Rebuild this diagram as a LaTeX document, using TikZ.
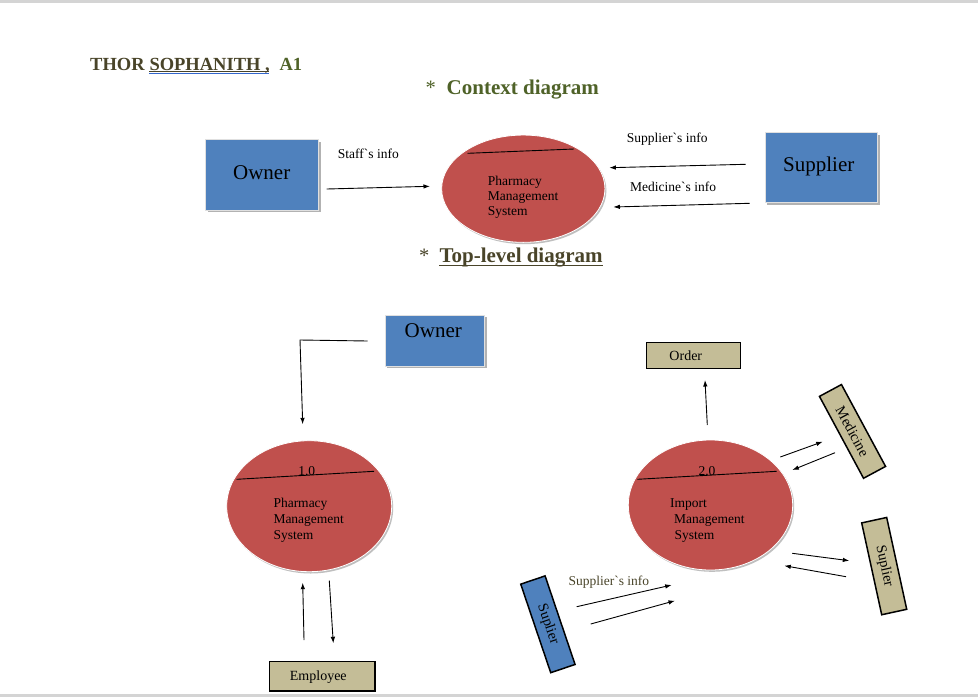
\documentclass[tikz,border=0pt]{standalone}
\usepackage{fontspec}
\setmainfont{Liberation Serif}
\usetikzlibrary{arrows.meta,shapes.geometric}
\definecolor{boxblue}{HTML}{4F81BD}
\definecolor{procred}{HTML}{C0504D}
\definecolor{tanfill}{HTML}{C4BD97}
\definecolor{olivegreen}{HTML}{4F6228}
\definecolor{darkolive}{HTML}{494429}
\definecolor{spellblue}{HTML}{3366CC}
\definecolor{edgegray}{HTML}{D4D4D4}
\begin{document}
\begin{tikzpicture}[x=1pt,y=-1pt,
  flow/.style={line width=0.9pt,-{Latex[length=6.5pt,width=4.5pt]}},
  plainline/.style={line width=0.9pt},
  bluebox/.style={rectangle, fill=boxblue, draw=black!12, line width=0.8pt, inner sep=0pt},
  boxshadow/.style={rectangle, fill=black!30, inner sep=0pt},
  procshadow/.style={ellipse, fill=black!25, inner sep=0pt},
  proc/.style={ellipse, fill=procred, draw=white, line width=0.8pt, inner sep=0pt},
  tanbox/.style={rectangle, fill=tanfill, draw=black, line width=1.5pt, inner sep=0pt, font=\fontsize{14}{16}\selectfont},
  rotbox/.style={rectangle, draw=black, line width=1.5pt, inner sep=0pt, font=\fontsize{14.5}{16}\selectfont},
  bigtext/.style={anchor=base, inner sep=0pt, font=\fontsize{21}{24}\selectfont},
  boxtext/.style={anchor=base, inner sep=0pt, font=\fontsize{14}{16}\selectfont},
  proctext/.style={anchor=base west, inner sep=0pt, font=\fontsize{13.5}{15}\selectfont},
  lbl/.style={anchor=base west, inner sep=0pt, font=\fontsize{13.5}{15}\selectfont},
  heading/.style={anchor=base west, inner sep=0pt, font=\bfseries\fontsize{21}{24}\selectfont},
  star/.style={anchor=base west, inner sep=0pt, font=\fontsize{20.5}{24}\selectfont},
  titletext/.style={anchor=base west, inner sep=0pt, font=\bfseries\fontsize{18.5}{22}\selectfont},
]
\useasboundingbox (0,0) rectangle (978,697);
\fill[white] (0,0) rectangle (978,697);
\fill[edgegray] (0,0) rectangle (978,2.6);
\fill[edgegray] (0,694.3) rectangle (978,697);

% ---------- title ----------
\node[titletext, text=darkolive] (t1) at (90,70) {THOR};
\node[titletext, text=darkolive] (t2) at (149.3,70) {SOPHANITH};
\node[titletext, text=darkolive] (t3) at (265,70) {,};
\node[titletext, text=olivegreen] (t4) at (279.3,70) {A1};
\draw[darkolive, line width=0.8pt] (149.3,71.4) -- (269.3,71.4);
\draw[spellblue, line width=1pt] (149.3,73.3) -- (269.3,73.3);

% ---------- headings ----------
\node[star, text=olivegreen] (s1) at (425.5,94.5) {*};
\node[heading, text=olivegreen] (h1) at (446.5,94.5) {Context diagram};
\node[star, text=darkolive] (s2) at (419,262.3) {*};
\node[heading, text=darkolive] (h2) at (439.3,262.3) {Top-level diagram};
\draw[darkolive, line width=1.3pt] (439.3,265.8) -- (603.3,265.8);

% ---------- context diagram ----------
\node[boxshadow, minimum width=112.6pt, minimum height=70.7pt] (owner1s) at (264.3,177) {};
\node[bluebox, minimum width=112.6pt, minimum height=70.7pt] (owner1) at (262,174.65) {};
\node[bigtext] (owner1t) at (261.7,179) {Owner};

\node[boxshadow, minimum width=112.3pt, minimum height=70pt] (supps) at (823.5,169.6) {};
\node[bluebox, minimum width=112.3pt, minimum height=70pt] (supp) at (821.2,167.3) {};
\node[bigtext] (suppt) at (818.8,171.7) {Supplier};

\node[procshadow, minimum width=163.3pt, minimum height=107.3pt] (ctxs) at (524.8,190.5) {};
\node[proc, minimum width=163.3pt, minimum height=107.3pt] (ctx) at (523.3,188.7) {};
\coordinate (ctxl1) at (467.7,153.3);
\coordinate (ctxl2) at (574,149);
\draw[plainline] (ctxl1) -- (ctxl2);
\node[proctext] (ctxt1) at (487.7,185) {Pharmacy};
\node[proctext] (ctxt2) at (487.7,200.3) {Management};
\node[proctext] (ctxt3) at (487.7,215.7) {System};

\coordinate (a1s) at (326.7,189);
\coordinate (a1e) at (430,186.3);
\draw[flow] (a1s) -- (a1e);
\node[lbl] (staff) at (337.7,158.3) {Staff\textasciigrave s info};

\coordinate (a2s) at (745.7,164.3);
\coordinate (a2e) at (609.3,167.7);
\draw[flow] (a2s) -- (a2e);
\node[lbl] (suppinfo) at (626.7,142.7) {Supplier\textasciigrave s info};

\coordinate (a3s) at (749.7,203.3);
\coordinate (a3e) at (613.3,207);
\draw[flow] (a3s) -- (a3e);
\node[lbl] (medinfo) at (630,191.7) {Medicine\textasciigrave s info};

% ---------- top-level diagram ----------
\node[boxshadow, minimum width=99.3pt, minimum height=51pt] (owner2s) at (437,342.8) {};
\node[bluebox, minimum width=99.3pt, minimum height=51pt] (owner2) at (434.7,340.5) {};
\node[bigtext] (owner2t) at (433.3,337.3) {Owner};

\node[procshadow, minimum width=165pt, minimum height=131pt] (p1s) at (310.7,508) {};
\node[proc, minimum width=165pt, minimum height=131pt] (p1) at (309.2,506.2) {};
\coordinate (p1l1) at (236.7,479.3);
\coordinate (p1l2) at (374,471.3);
\node[anchor=base, inner sep=0pt, font=\fontsize{13.5}{15}\selectfont] (p1n) at (306.7,475.7) {1.0};
\draw[plainline] (p1l1) -- (p1l2);
\node[proctext] (p1t1) at (273.3,507.3) {Pharmacy};
\node[proctext] (p1t2) at (273.3,523.3) {Management};
\node[proctext] (p1t3) at (273.3,539.6) {System};

\node[procshadow, minimum width=164.4pt, minimum height=130pt] (p2s) at (712,506.8) {};
\node[proc, minimum width=164.4pt, minimum height=130pt] (p2) at (710.5,505) {};
\coordinate (p2l1) at (637.3,479.3);
\coordinate (p2l2) at (776.7,471.3);
\node[anchor=base, inner sep=0pt, font=\fontsize{13.5}{15}\selectfont] (p2n) at (707,475.7) {2.0};
\draw[plainline] (p2l1) -- (p2l2);
\node[proctext] (p2t1) at (670,507.7) {Import};
\node[proctext] (p2t2) at (674,523.7) {Management};
\node[proctext] (p2t3) at (674.3,539.3) {System};

\node[tanbox, minimum width=105.7pt, minimum height=29.3pt] (emp) at (322.2,676.3) {};
\node[boxtext] (empt) at (318.3,680) {Employee};

\node[tanbox, minimum width=94pt, minimum height=26pt] (order) at (693.7,355.3) {};
\node[boxtext] (ordert) at (685.8,360.7) {Order};

\node[rotbox, fill=tanfill, rotate=-61.7, minimum width=93pt, minimum height=25pt] (med) at (852.5,431.4) {Medicine};
\node[rotbox, fill=tanfill, rotate=-77.7, minimum width=94pt, minimum height=25.6pt] (supr) at (884.2,566.1) {Suplier};
\node[rotbox, fill=boxblue, rotate=-71.3, minimum width=93.5pt, minimum height=25.7pt] (supl) at (547.9,624.3) {Suplier};

% connectors
\coordinate (b1s) at (367.7,341);
\coordinate (b1c) at (300,340);
\coordinate (b1e) at (302.7,424.3);
\draw[flow] (b1s) -- (b1c) -- (b1e);

\coordinate (b2s) at (304,640);
\coordinate (b2e) at (302.7,582.7);
\draw[flow] (b2s) -- (b2e);
\coordinate (b3s) at (329.3,580.7);
\coordinate (b3e) at (333.3,643.3);
\draw[flow] (b3s) -- (b3e);

\coordinate (b4s) at (707.3,425);
\coordinate (b4e) at (705,380);
\draw[flow] (b4s) -- (b4e);

\coordinate (b5s) at (780.3,457);
\coordinate (b5e) at (822.7,441.7);
\draw[flow] (b5s) -- (b5e);
\coordinate (b6s) at (835,452.7);
\coordinate (b6e) at (792.3,470);
\draw[flow] (b6s) -- (b6e);

\coordinate (b7s) at (792.3,553.3);
\coordinate (b7e) at (849.3,560.7);
\draw[flow] (b7s) -- (b7e);
\coordinate (b8s) at (846,576.7);
\coordinate (b8e) at (784.3,565.7);
\draw[flow] (b8s) -- (b8e);

\coordinate (b9s) at (576.7,606.7);
\coordinate (b9e) at (671.7,585);
\draw[flow] (b9s) -- (b9e);
\coordinate (b10s) at (590.7,624);
\coordinate (b10e) at (675,600.7);
\draw[flow] (b10s) -- (b10e);
\node[lbl, text=darkolive] (suppinfo2) at (568.3,585) {Supplier\textasciigrave s info};
\end{tikzpicture}
\end{document}
